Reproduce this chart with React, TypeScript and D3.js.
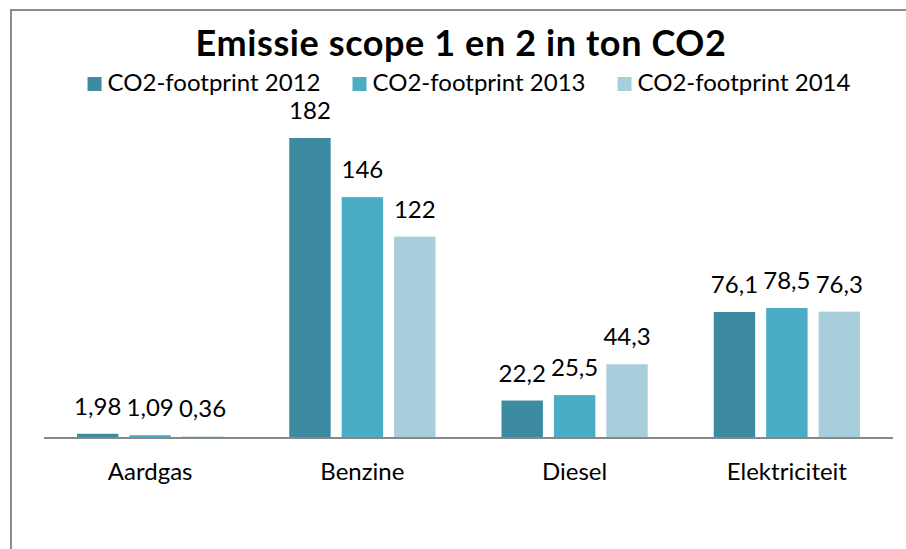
import React, { useEffect, useRef } from 'react';
import * as d3 from 'd3';

const categories = ['Aardgas', 'Benzine', 'Diesel', 'Elektriciteit'];
const seriesNames = ['CO2-footprint 2012', 'CO2-footprint 2013', 'CO2-footprint 2014'];
const values2012 = [1.98, 182, 22.2, 76.1];
const values2013 = [1.09, 146, 25.5, 78.5];
const values2014 = [0.36, 122, 44.3, 76.3];
const colors = ['#3d8ba1', '#4bacc6', '#a8cedc'];

const width = 906;
const height = 549;
const font = 'Lato, "Noto Sans", sans-serif';

export default function App() {
  const svgRef = useRef<SVGSVGElement | null>(null);

  useEffect(() => {
    const svg = d3.select(svgRef.current);
    svg.selectAll('*').remove();

    const allSeries = [values2012, values2013, values2014];
    const margin = { left: 44, right: 13, top: 138, bottom: 112 };

    // frame of the embedded chart
    svg.append('rect')
      .attr('x', 11).attr('y', 10)
      .attr('width', width + 20).attr('height', height + 20)
      .attr('fill', '#fff')
      .attr('stroke', '#8c8c8c')
      .attr('stroke-width', 2);

    const x0 = d3.scaleBand()
      .domain(categories)
      .range([margin.left, width - margin.right]);

    const x1 = d3.scaleBand()
      .domain(seriesNames)
      .range([33, x0.bandwidth() - 33])
      .paddingInner(0.21);

    const y = d3.scaleLinear()
      .domain([0, 182])
      .range([height - margin.bottom, margin.top]);

    const groups = svg.append('g')
      .selectAll('g')
      .data(categories)
      .enter().append('g')
      .attr('transform', (d) => `translate(${x0(d)},0)`);

    seriesNames.forEach((name, si) => {
      groups.append('rect')
        .attr('x', x1(name)!)
        .attr('y', (_, i) => y(allSeries[si][i]))
        .attr('width', x1.bandwidth())
        .attr('height', (_, i) => y(0) - y(allSeries[si][i]))
        .attr('fill', colors[si]);

      groups.append('text')
        .attr('x', x1(name)! + x1.bandwidth() / 2)
        .attr('y', (_, i) => y(allSeries[si][i]) - 19)
        .attr('text-anchor', 'middle')
        .style('font-family', font)
        .style('font-size', '24px')
        .attr('fill', '#000')
        .text((_, i) => String(allSeries[si][i]).replace('.', ','));
    });

    // category axis
    svg.append('line')
      .attr('x1', margin.left).attr('x2', width - margin.right)
      .attr('y1', y(0) + 1).attr('y2', y(0) + 1)
      .attr('stroke', '#888')
      .attr('stroke-width', 2);

    svg.append('g')
      .selectAll('text')
      .data(categories)
      .enter().append('text')
      .attr('x', (d) => x0(d)! + x0.bandwidth() / 2)
      .attr('y', 480)
      .attr('text-anchor', 'middle')
      .style('font-family', font)
      .style('font-size', '24px')
      .attr('fill', '#000')
      .text((d) => d);

    // title
    svg.append('text')
      .attr('x', 461)
      .attr('y', 56)
      .attr('text-anchor', 'middle')
      .style('font-family', font)
      .style('font-size', '36px')
      .style('font-weight', 'bold')
      .style('letter-spacing', '0.6px')
      .attr('fill', '#000')
      .text('Emissie scope 1 en 2 in ton CO2');

    // legend, laid out from measured text widths
    const legend = svg.append('g');
    let cursor = 0;
    seriesNames.forEach((name, i) => {
      const item = legend.append('g').attr('transform', `translate(${cursor},0)`);
      item.append('rect')
        .attr('x', 0).attr('y', 77)
        .attr('width', 14).attr('height', 14)
        .attr('fill', colors[i]);
      const t = item.append('text')
        .attr('x', 20).attr('y', 91)
        .style('font-family', font)
        .style('font-size', '24px')
        .attr('fill', '#000')
        .text(name);
      const w = (t.node() as SVGTextElement).getComputedTextLength();
      cursor += 20 + w + (i < seriesNames.length - 1 ? 32 : 0);
    });
    legend.attr('transform', `translate(${469 - cursor / 2},0)`);
  }, []);

  return (
    <svg
      ref={svgRef}
      width={width}
      height={height}
      style={{ position: 'absolute', left: 0, top: 0, background: '#fff' }}
    />
  );
}
